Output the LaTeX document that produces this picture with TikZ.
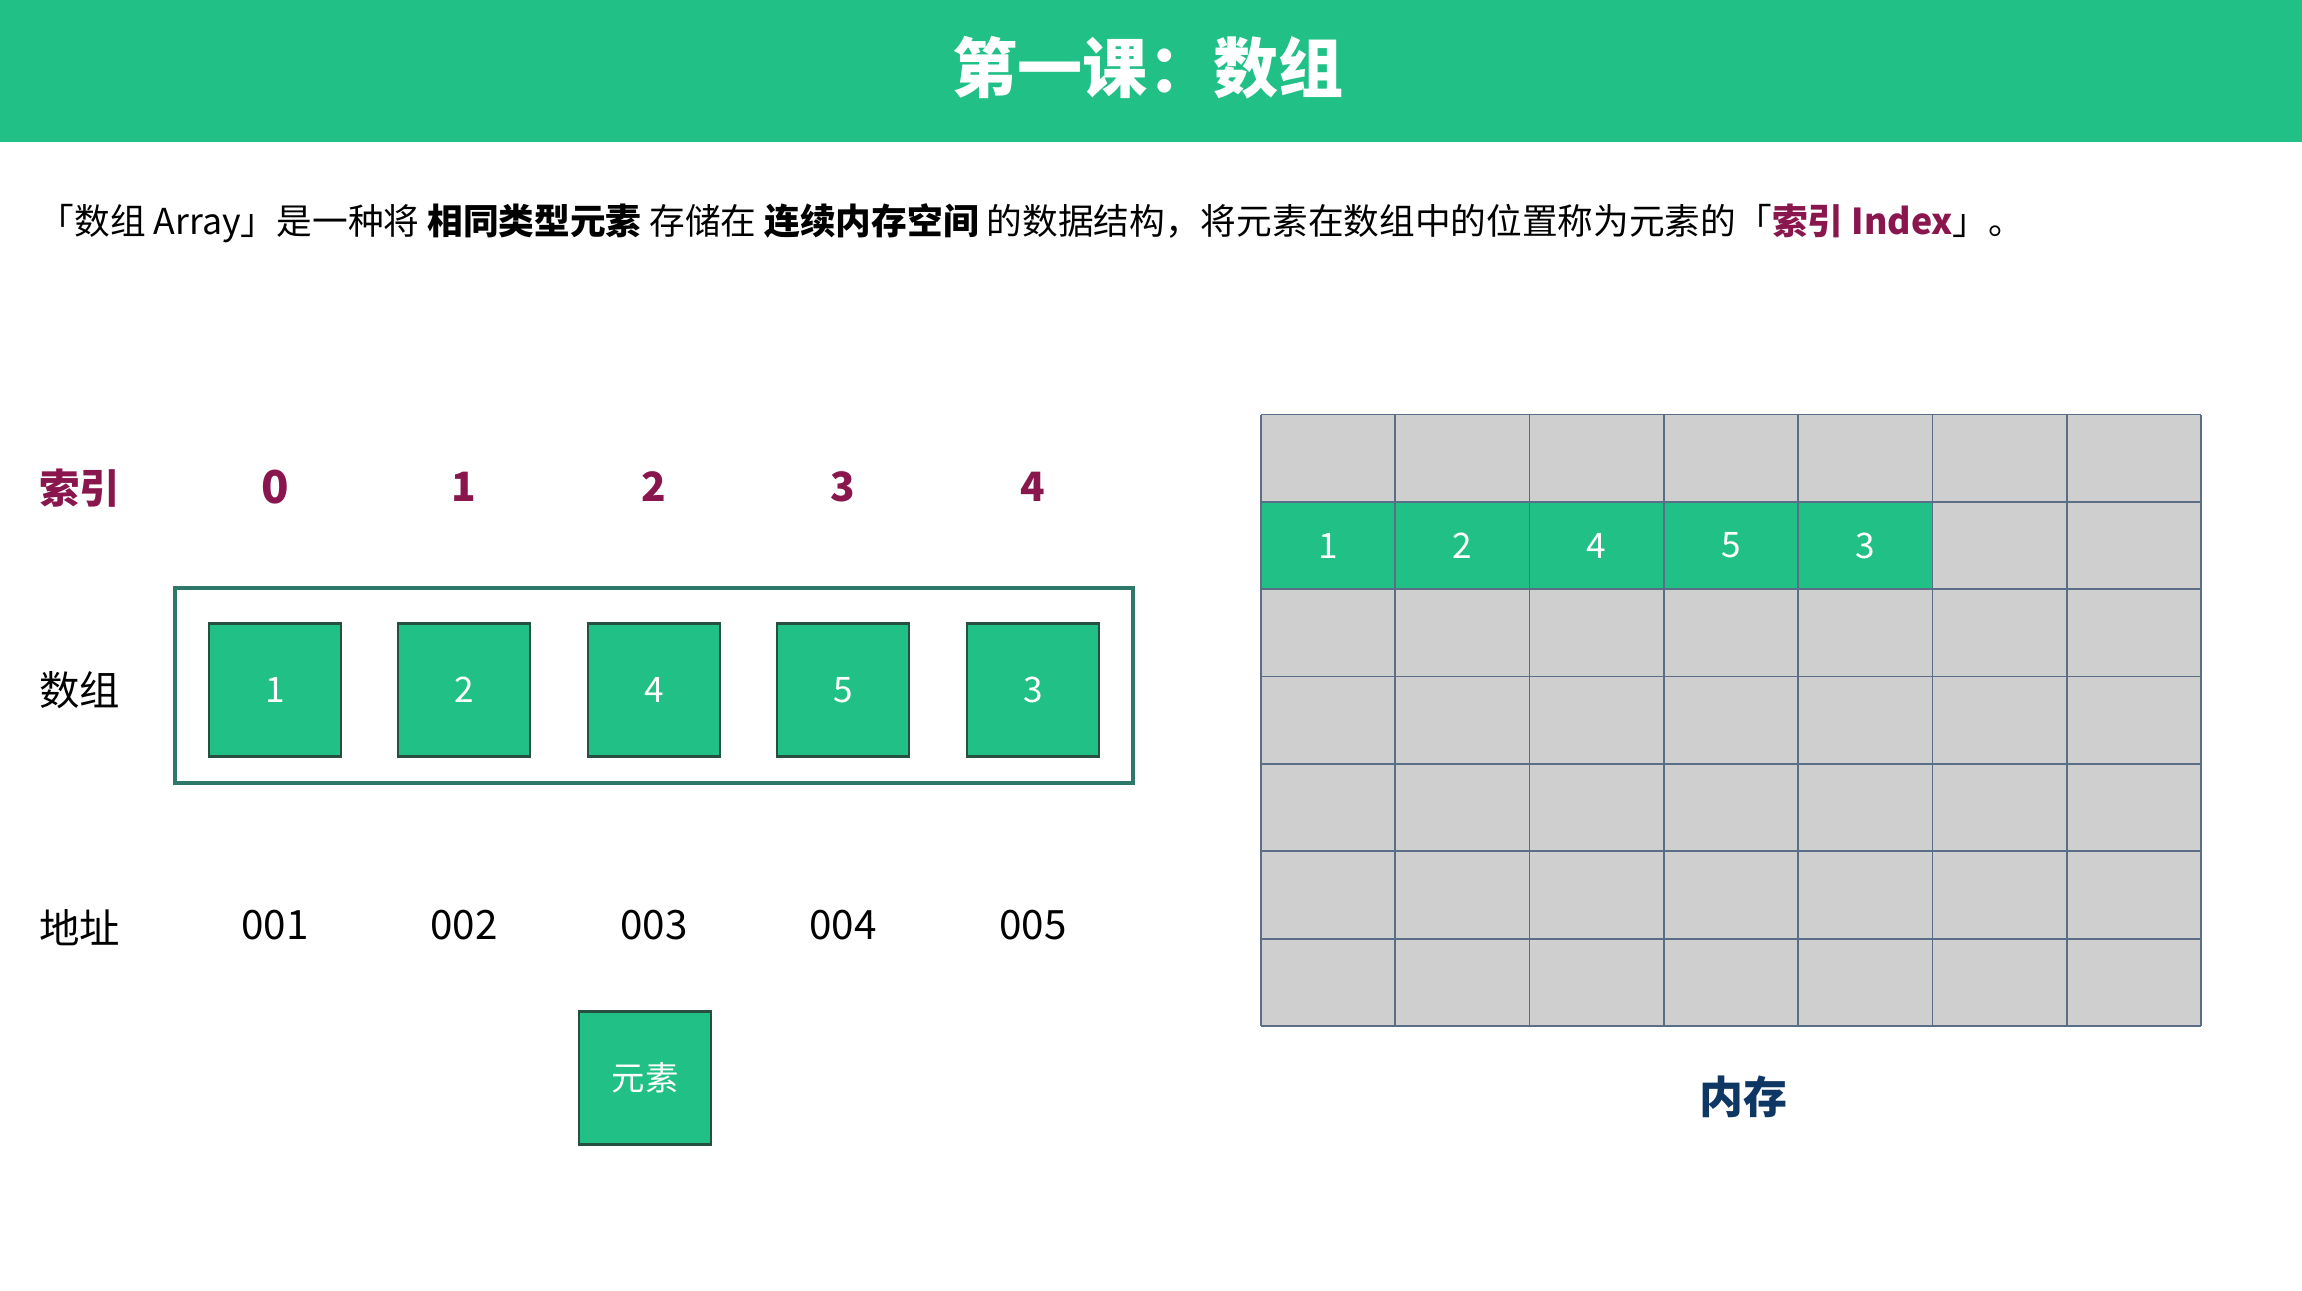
\documentclass[tikz,border=0pt]{standalone}
\usepackage{fontspec}
\setmainfont{Noto Sans CJK SC}
\definecolor{headgreen}{RGB}{33,192,134}
\definecolor{arrgreen}{RGB}{33,192,134}
\definecolor{boxline}{RGB}{40,80,65}
\definecolor{outerline}{RGB}{45,120,105}
\definecolor{idxred}{RGB}{138,22,78}
\definecolor{memgray}{RGB}{207,207,207}
\definecolor{gridline}{RGB}{90,110,135}
\definecolor{memblue}{RGB}{15,55,100}
\tikzset{
  cell/.style={draw=boxline, fill=arrgreen, line width=0.8pt, minimum width=1.32cm,
    minimum height=1.33cm, inner sep=0pt, text=white, font=\fontsize{10}{12}\selectfont},
  rowlab/.style={inner sep=0pt, font=\fontsize{11.5}{13}\selectfont},
  idxnum/.style={inner sep=0pt, text=idxred, font=\bfseries\fontsize{11.5}{13}\selectfont},
  addr/.style={inner sep=0pt, font=\fontsize{11.5}{13}\selectfont},
  memnum/.style={inner sep=0pt, text=white, font=\fontsize{10}{12}\selectfont},
  gridln/.style={draw=gridline, line width=0.5pt}
}
\begin{document}
\begin{tikzpicture}[x=0.01cm, y=-0.01cm]
\useasboundingbox (0,0) rectangle (2302,1291);

% header
\fill[headgreen] (0,0) rectangle (2302,142);
\node[text=white, font=\bfseries\fontsize{18.5}{20}\selectfont] (title) at (1148,68) {第一课：数组};

\node[anchor=west, inner sep=0pt, font=\fontsize{10.15}{12}\selectfont] (desc) at (38,223)
  {「数组 Array」是一种将 \textbf{相同类型元素} 存储在 \textbf{连续内存空间} 的数据结构，将元素在数组中的位置称为元素的「{\color{idxred}\bfseries 索引 Index}」。};

% array
\node[rowlab, text=idxred, font=\bfseries\fontsize{11.5}{13}\selectfont] (lidx) at (80,488) {索引};
\node[rowlab] (larr) at (80,690) {数组};
\node[rowlab] (ladr) at (80,928) {地址};

\draw[outerline, line width=1pt] (175,588) rectangle (1133,783);

\foreach \i/\v/\x/\s in {0/1/275/1.12, 1/2/464/1, 2/4/654/1, 3/5/843/1, 4/3/1033/1} {
  \node[cell] (a\i) at (\x,690) {\v};
  \node[idxnum, scale=\s] (i\i) at (\x,487) {\i};
  \pgfmathtruncatemacro{\n}{\i+1}
  \node[addr] (d\i) at (\x,925) {00\n};
}

\node[cell, font=\fontsize{9.5}{11}\selectfont] (elem) at (645,1078) {元素};

% memory
\fill[memgray] (1261,414.5) rectangle (2201,1026);
\fill[arrgreen] (1261,501.9) rectangle (1932.5,589.3);
\foreach \c in {0,...,7}
  \draw[gridln] (1261+\c*134.29,414.5) -- (1261+\c*134.29,1026);
\foreach \r in {0,...,7}
  \draw[gridln] (1261,414.5+\r*87.36) -- (2201,414.5+\r*87.36);
\foreach \v [count=\c from 0] in {1,2,4,5,3}
  \node[memnum] (m\c) at (1328.1+\c*134.29,545.6) {\v};

\node[inner sep=0pt, text=memblue, font=\bfseries\fontsize{12.5}{14}\selectfont] (mem) at (1743,1097) {内存};

\end{tikzpicture}
\end{document}
